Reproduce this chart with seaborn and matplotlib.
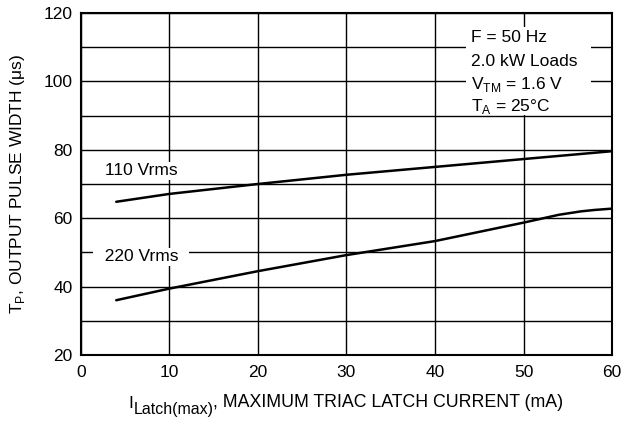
import matplotlib
matplotlib.use('Agg')
import matplotlib.pyplot as plt
from matplotlib.patches import Rectangle
from matplotlib.text import Annotation
import numpy as np
import pandas as pd
import seaborn as sns

# data
latch_110 = [4, 10, 20, 30, 40, 50, 60]
width_110 = [64.8, 67.1, 70.0, 72.7, 75.0, 77.3, 79.6]

latch_220 = [4, 10, 20, 30, 40, 50, 54, 56.5, 58, 60]
width_220 = [36.0, 39.4, 44.5, 49.2, 53.3, 58.7, 61.0, 62.0, 62.4, 62.8]

x_ticks = [0, 10, 20, 30, 40, 50, 60]
y_ticks = [20, 40, 60, 80, 100, 120]

sns.set_style('white')
FONT = 'Liberation Sans'
plt.rcParams['font.family'] = [FONT, 'DejaVu Sans']
plt.rcParams['mathtext.fontset'] = 'custom'
plt.rcParams['mathtext.rm'] = FONT
plt.rcParams['text.color'] = 'black'
plt.rcParams['axes.labelcolor'] = 'black'
plt.rcParams['xtick.color'] = 'black'
plt.rcParams['ytick.color'] = 'black'

FS = 12.5

fig = plt.figure(figsize=(6.22, 4.23), dpi=100)
ax = fig.add_axes([0.130, 0.161, 0.854, 0.808])

df = pd.concat([
    pd.DataFrame({'latch': latch_110, 'width': width_110, 'series': '110 Vrms'}),
    pd.DataFrame({'latch': latch_220, 'width': width_220, 'series': '220 Vrms'}),
])
sns.lineplot(data=df, x='latch', y='width', units='series', estimator=None,
             color='black', linewidth=1.8, ax=ax, legend=False, zorder=4)

ax.set_xlim(0, 60)
ax.set_ylim(20, 120)
ax.set_xticks(x_ticks)
ax.set_yticks(y_ticks)
ax.set_xticks(np.arange(0, 61, 10), minor=True)
ax.set_yticks(np.arange(20, 121, 10), minor=True)
ax.grid(which='both', color='black', linewidth=1)
ax.set_axisbelow(True)
ax.tick_params(which='both', length=0, labelsize=FS)
ax.tick_params(axis='x', pad=7)
ax.tick_params(axis='y', pad=6)
for sp in ax.spines.values():
    sp.set_color('black')
    sp.set_linewidth(1.5)

ax.set_ylabel(r'T$_\mathregular{P}$, OUTPUT PULSE WIDTH (μs)', fontsize=FS, labelpad=12)
ax.set_xlabel('')

# x label built from pieces so the subscript stays large
t1 = fig.text(128 / 622, 1 - 408 / 423, 'I', fontsize=FS, va='baseline', ha='left')
t2 = fig.add_artist(Annotation(
    'Latch(max)', xy=(1, 0), xycoords=t1, xytext=(0.3, -4), textcoords='offset points',
    fontsize=11.5, va='bottom', ha='left'))
t3 = fig.add_artist(Annotation(
    ', MAXIMUM TRIAC LATCH CURRENT (mA)', xy=(1, 0), xycoords=(t2, t1),
    xytext=(0, 0), textcoords='offset points', fontsize=12.8, va='bottom', ha='left'))

# labels on curves
box = dict(facecolor='white', edgecolor='none', pad=1)
ax.text(2.15, 73.9, ' 110 Vrms ', fontsize=FS, ha='left', va='center', bbox=box, zorder=3)
ax.text(1.55, 48.7, '  220 Vrms  ', fontsize=FS, ha='left', va='center', bbox=box, zorder=3)

# conditions block
ax.add_patch(Rectangle((43.5, 90.2), 14.1, 25.7, facecolor='white', edgecolor='none', zorder=2))
cond_lines = ['F = 50 Hz', '2.0 kW Loads',
              r'V$_\mathregular{TM}$ = 1.6 V', r'T$_\mathregular{A}$ = 25°C']
cond_y = [111.5, 104.5, 97.8, 91.3]
for txt, yy in zip(cond_lines, cond_y):
    ax.text(44.1, yy, txt, fontsize=FS, ha='left', va='baseline', zorder=3)

fig.savefig('out.png', dpi=100)
